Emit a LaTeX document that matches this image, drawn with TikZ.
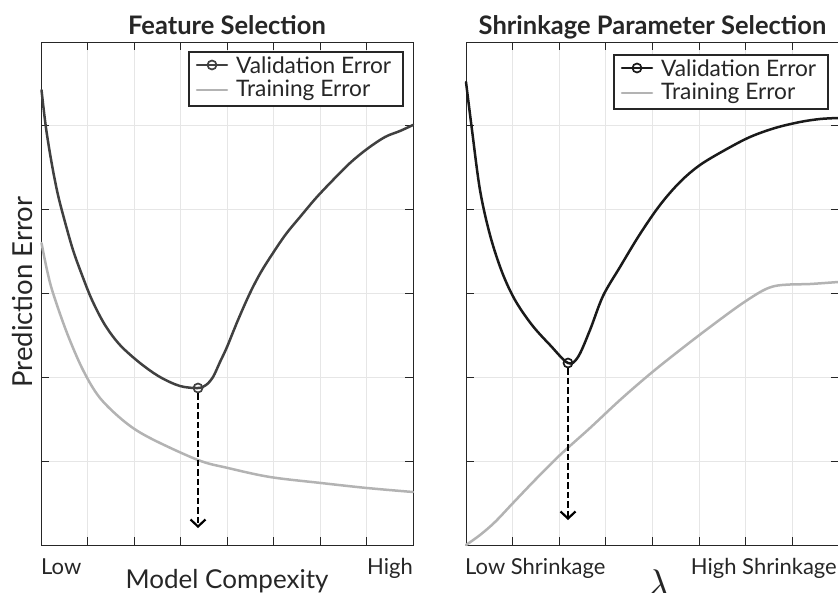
\documentclass[tikz,border=0pt]{standalone}
\usepackage{fontspec}
\setmainfont{Lato}
\usetikzlibrary{arrows.meta}
\definecolor{valcolA}{HTML}{404040}
\definecolor{valcolB}{HTML}{1A1A1A}
\definecolor{traincol}{HTML}{B3B3B3}
\definecolor{gridcol}{HTML}{E6E6E6}
\definecolor{axcol}{HTML}{262626}

\begin{document}
\begin{tikzpicture}[x=1pt, y=-1pt,
  curve/.style={line width=2.5pt, line join=round, line cap=round},
  errmark/.style={circle, draw, line width=1.7pt, inner sep=0pt, minimum size=9pt},
  droparrow/.style={-{Straight Barb[length=7pt,width=15pt,line width=2.2pt]},
    dash pattern=on 6.5pt off 3pt, line width=2.4pt, black},
  legtext/.style={font=\fontsize{22.7}{24}\selectfont, anchor=west, inner sep=0pt, text=axcol},
  ticktext/.style={font=\fontsize{22}{24}\selectfont, inner sep=0pt, text=axcol},
  axtext/.style={font=\fontsize{26}{28}\selectfont, inner sep=0pt, text=axcol},
  titletext/.style={font=\bfseries\fontsize{25.5}{27}\selectfont, inner sep=0pt, text=axcol}
]
\useasboundingbox (0,0) rectangle (838,592);

% ---------- dimensions ----------
\def\ytop{42}
\def\ybot{545}
\def\ticklen{8}

% ---------- panel macro ----------
\newcommand{\drawpanel}[4]{%
  % #1 = left x, #2 = right x, #3 = title, #4 = name

  % grid
  \foreach \i in {1,...,7} {
    \pgfmathsetmacro{\xx}{#1+\i*(#2-#1)/8}
    \draw[gridcol, line width=0.9pt] (\xx,\ytop) -- (\xx,\ybot);
  }
  \foreach \j in {1,...,5} {
    \pgfmathsetmacro{\yy}{\ytop+\j*(\ybot-\ytop)/6}
    \draw[gridcol, line width=0.9pt] (#1,\yy) -- (#2,\yy);
  }

  % ticks
  \foreach \i in {1,...,7} {
    \pgfmathsetmacro{\xx}{#1+\i*(#2-#1)/8}
    \draw[axcol, line width=0.9pt] (\xx,\ytop) -- (\xx,\ytop+\ticklen);
    \draw[axcol, line width=0.9pt] (\xx,\ybot) -- (\xx,\ybot-\ticklen);
  }
  \foreach \j in {1,...,5} {
    \pgfmathsetmacro{\yy}{\ytop+\j*(\ybot-\ytop)/6}
    \draw[axcol, line width=0.9pt] (#1,\yy) -- (#1+\ticklen,\yy);
    \draw[axcol, line width=0.9pt] (#2,\yy) -- (#2-\ticklen,\yy);
  }

  % box
  \draw[axcol, line width=1pt] (#1,\ytop) rectangle (#2,\ybot);

  % title
  \node[titletext, anchor=base] (#4title) at ({(#1+#2)/2},34) {#3};
}

% ---------- legend macro ----------
\newcommand{\drawlegend}[4]{%
  % #1 = left x, #2 = top y, #3 = validation colour, #4 = name
  \draw[axcol, fill=white, line width=1.1pt] (#1,#2) rectangle ({#1+214},{#2+54});
  \draw[curve, #3] ({#1+8},{#2+13}) -- ({#1+38},{#2+13});
  \node[errmark, #3] (#4mark) at ({#1+23},{#2+13}) {};
  \draw[curve, traincol] ({#1+8},{#2+38}) -- ({#1+38},{#2+38});
  \node[legtext] (#4val) at ({#1+47},{#2+13}) {Validation Error};
  \node[legtext] (#4train) at ({#1+47},{#2+38}) {Training Error};
}

% ==================================================
% Feature selection
% ==================================================
\drawpanel{41}{413}{Feature Selection}{feat}

\draw[curve, traincol] plot[smooth, tension=0.55] coordinates {
  (41.5,243) (47,270) (53,293) (67,333) (83,370) (100,398) (125,422)
  (150,438) (198,460) (228,468) (270,477) (321,483) (367,488) (413,492)};
\draw[curve, valcolA] plot[smooth, tension=0.55] coordinates {
  (41.5,90) (46,128) (52,165) (58,195) (65,222) (73,250) (82,275)
  (92,300) (105,325) (120,345) (140,363) (160,377) (180,386) (198,388)
  (206,385) (213,377) (220,362) (227,347) (238,320) (250,293) (261,272)
  (273,253) (286,234) (300,217) (316,198) (333,180) (350,163) (367,149)
  (385,137) (400,131) (413,125)};

\node[errmark, valcolA] (featmin) at (198,388) {};
\coordinate (feattip) at (198,528);
\draw[droparrow] (featmin.south) -- (feattip);

\drawlegend{189}{52}{valcolA}{featleg}

\node[ticktext, anchor=base west] (featlow) at (41,574) {Low};
\node[ticktext, anchor=base east] (feathigh) at (413,574) {High};
\node[axtext, anchor=base] (featxlab) at (227,588) {Model Compexity};
\node[axtext, anchor=base, rotate=90, font=\fontsize{27.5}{29}\selectfont]
  (featylab) at (32,292) {Prediction Error};

% ==================================================
% Shrinkage parameter selection
% ==================================================
\drawpanel{466}{839}{Shrinkage Parameter Selection}{shr}

\draw[curve, traincol] plot[smooth, tension=0.55] coordinates {
  (466,545) (480,535) (495,522) (513,503) (535,480) (560,455) (590,428)
  (620,400) (650,374) (680,350) (710,327) (740,305) (762,291) (775,286)
  (790,284.5) (810,284) (838,282)};
\draw[curve, valcolB] plot[smooth, tension=0.55] coordinates {
  (466,82) (472,130) (480,190) (490,235) (502,272) (515,300) (532,325)
  (550,345) (568,363) (578,357) (590,330) (603,296) (620,267) (640,234)
  (660,205) (680,182) (700,165) (725,150) (750,137) (775,128) (800,122)
  (820,119) (838,118)};

\node[errmark, valcolB] (shrmin) at (568,363) {};
\coordinate (shrtip) at (568,520);
\draw[droparrow] (shrmin.south) -- (shrtip);

\drawlegend{614}{55}{valcolB}{shrleg}

\node[ticktext, anchor=base west] (shrlow) at (465,574) {Low Shrinkage};
\node[ticktext, anchor=base east] (shrhigh) at (837,574) {High Shrinkage};
\node[inner sep=0pt, anchor=base, text=axcol, scale=4] (shrxlab) at (658,597)
  {$\lambda$};

\end{tikzpicture}
\end{document}
